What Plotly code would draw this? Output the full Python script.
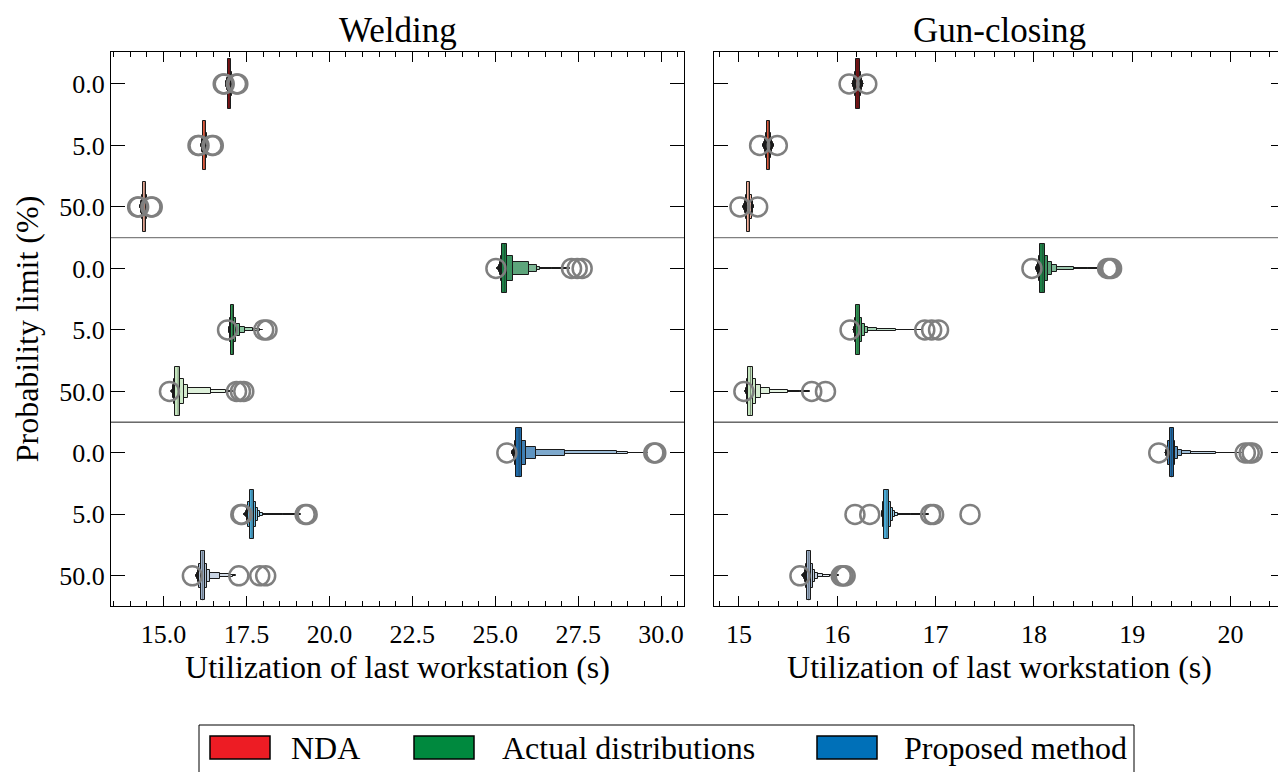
import plotly.graph_objects as go
from plotly.subplots import make_subplots

# ---------------- data ----------------
ROW_POSITIONS = [0, 1, 2, 3, 4, 5, 6, 7, 8]
PROB_TICK_LABELS = ["0.0", "5.0", "50.0", "0.0", "5.0", "50.0", "0.0", "5.0", "50.0"]
METHODS = ["NDA", "Actual distributions", "Proposed method"]
PANEL_TITLES = ["Welding", "Gun-closing"]
X_TITLE = "Utilization of last workstation (s)"
Y_TITLE = "Probability limit (%)"

# Welding: letter values (innermost -> outermost) per row
WELDING_MEDIAN = [17.00, 16.25, 14.42, 25.28, 17.08, 15.44, 25.72, 17.67, 16.18]
WELDING_LV_LOW = [
    [16.955, 16.93, 16.91, 16.895, 16.885, 16.878, 16.872],
    [16.205, 16.18, 16.16, 16.145, 16.135, 16.128, 16.122],
    [14.375, 14.35, 14.33, 14.315, 14.305, 14.298, 14.292],
    [25.20, 25.16, 25.13, 25.10, 25.08, 25.065, 25.055],
    [17.04, 17.01, 16.99, 16.98, 16.97, 16.965, 16.96],
    [15.36, 15.33, 15.30, 15.28, 15.26, 15.25, 15.24],
    [25.63, 25.59, 25.56, 25.54, 25.52, 25.51, 25.50],
    [17.60, 17.55, 17.51, 17.48, 17.45, 17.43, 17.42],
    [16.12, 16.08, 16.05, 16.02, 16.00, 15.98, 15.97],
]
WELDING_LV_HIGH = [
    [17.045, 17.07, 17.09, 17.105, 17.115, 17.122, 17.128],
    [16.295, 16.32, 16.34, 16.355, 16.365, 16.372, 16.378],
    [14.465, 14.49, 14.51, 14.525, 14.535, 14.542, 14.548],
    [25.36, 25.53, 26.03, 26.25, 26.36, 26.70, 27.24],
    [17.12, 17.20, 17.30, 17.45, 17.70, 17.90, 18.00],
    [15.51, 15.61, 15.73, 16.42, 16.87, 16.95, 17.10],
    [25.81, 25.94, 26.24, 27.11, 28.68, 29.00, 29.60],
    [17.74, 17.79, 17.84, 17.90, 18.00, 18.60, 19.15],
    [16.24, 16.30, 16.40, 16.70, 17.00, 17.10, 17.20],
]
WELDING_OUTLIERS = [
    [16.80, 16.83, 17.20, 17.24],
    [16.04, 16.07, 16.46, 16.50],
    [14.22, 14.25, 14.62, 14.66],
    [25.02, 27.30, 27.47, 27.62],
    [16.93, 18.02, 18.12],
    [15.18, 17.20, 17.32, 17.42],
    [25.35, 29.78, 29.84],
    [17.33, 17.37, 19.27, 19.33],
    [15.87, 17.27, 17.90, 18.08],
]

# Gun-closing
GUN_MEDIAN = [16.21, 15.30, 15.10, 18.09, 16.21, 15.117, 19.40, 16.505, 15.71]
GUN_LV_LOW = [
    [16.193, 16.18, 16.17, 16.163, 16.158, 16.155, 16.153],
    [15.283, 15.27, 15.26, 15.253, 15.248, 15.245, 15.243],
    [15.083, 15.07, 15.06, 15.053, 15.048, 15.045, 15.043],
    [18.062, 18.05, 18.04, 18.03, 18.025, 18.02, 18.018],
    [16.195, 16.185, 16.177, 16.172, 16.168, 16.165, 16.163],
    [15.095, 15.085, 15.078, 15.072, 15.068, 15.065, 15.063],
    [19.38, 19.365, 19.355, 19.348, 19.343, 19.34, 19.338],
    [16.48, 16.47, 16.463, 16.458, 16.455, 16.452, 16.45],
    [15.69, 15.68, 15.67, 15.663, 15.656, 15.65, 15.645],
]
GUN_LV_HIGH = [
    [16.227, 16.24, 16.25, 16.257, 16.262, 16.265, 16.267],
    [15.317, 15.33, 15.34, 15.347, 15.352, 15.355, 15.357],
    [15.117, 15.13, 15.14, 15.147, 15.152, 15.155, 15.157],
    [18.112, 18.146, 18.18, 18.237, 18.406, 18.55, 18.68],
    [16.235, 16.255, 16.28, 16.31, 16.40, 16.60, 16.86],
    [15.14, 15.17, 15.22, 15.32, 15.50, 15.62, 15.72],
    [19.42, 19.44, 19.47, 19.51, 19.60, 19.85, 20.12],
    [16.53, 16.55, 16.57, 16.59, 16.62, 16.75, 16.93],
    [15.73, 15.75, 15.77, 15.80, 15.85, 15.93, 16.02],
]
GUN_OUTLIERS = [
    [16.12, 16.30],
    [15.21, 15.39],
    [15.01, 15.19],
    [17.98, 18.75, 18.77, 18.79],
    [16.13, 16.89, 16.96, 17.03],
    [15.05, 15.74, 15.88],
    [19.27, 20.15, 20.19, 20.22],
    [16.18, 16.33, 16.95, 16.98, 17.35],
    [15.62, 16.04, 16.06, 16.08],
]

# ---------------- style ----------------
ROW_COLORS = ["#7c1114", "#e05a3d", "#f8b29c",
              "#1d8147", "#2f9a55", "#c4e5be",
              "#1f6aa8", "#4aaad6", "#9fb3cc"]
LEGEND_COLORS = ["#ed1c24", "#00893e", "#0070b8"]
FONT = "Liberation Serif"

# the page body adds an 8px offset; pixel layout below is in window coordinates
OFF = 8
W, H = 1286, 772
PLOT_L, PLOT_R, PLOT_T, PLOT_B = 111, 1285, 52, 606
L = PLOT_L - OFF
T = PLOT_T - OFF
R = W - (PLOT_R - OFF)
B = H - (PLOT_B - OFF)
PW, PH = W - L - R, H - T - B


def mix_white(hex_color, t):
    h = hex_color.lstrip("#")
    r, g, b = (int(h[i:i + 2], 16) for i in (0, 2, 4))
    r = round(r + (255 - r) * t)
    g = round(g + (255 - g) * t)
    b = round(b + (255 - b) * t)
    return f"rgb({r},{g},{b})"


def px(xw):
    return (xw - PLOT_L) / PW


def py(yw):
    return (PLOT_B - yw) / PH


fig = make_subplots(rows=1, cols=2)

panels = [
    (WELDING_MEDIAN, WELDING_LV_LOW, WELDING_LV_HIGH, WELDING_OUTLIERS),
    (GUN_MEDIAN, GUN_LV_LOW, GUN_LV_HIGH, GUN_OUTLIERS),
]

for col, (med, lows, highs, outs) in enumerate(panels, start=1):
    n_lv = len(lows[0])
    for j in range(n_lv - 1, -1, -1):
        frac = 0.85 * j / (n_lv - 1)
        fig.add_trace(go.Bar(
            orientation="h",
            y=ROW_POSITIONS,
            base=[lows[r][j] for r in ROW_POSITIONS],
            x=[highs[r][j] - lows[r][j] for r in ROW_POSITIONS],
            width=[0.8 * 0.5 ** j] * len(ROW_POSITIONS),
            marker=dict(color=[mix_white(ROW_COLORS[r], frac) for r in ROW_POSITIONS],
                        line=dict(color="#1a1a1a", width=1)),
            showlegend=False, hoverinfo="skip",
        ), row=1, col=col)
    # median lines
    mx, my = [], []
    for r in ROW_POSITIONS:
        mx += [med[r], med[r], None]
        my += [r - 0.4, r + 0.4, None]
    fig.add_trace(go.Scatter(x=mx, y=my, mode="lines",
                             line=dict(color="rgba(38,38,38,0.45)", width=1),
                             showlegend=False, hoverinfo="skip"), row=1, col=col)
    # outliers
    ox, oy = [], []
    for r in ROW_POSITIONS:
        ox += outs[r]
        oy += [r] * len(outs[r])
    fig.add_trace(go.Scatter(x=ox, y=oy, mode="markers",
                             marker=dict(symbol="circle-open", size=19, color="#7f7f7f",
                                         line=dict(width=2.5)),
                             showlegend=False, hoverinfo="skip"), row=1, col=col)

axis_common = dict(showline=True, linecolor="black", linewidth=1.3, mirror="allticks",
                   ticks="inside", tickcolor="black", tickwidth=1.3,
                   showgrid=False, zeroline=False, automargin=False,
                   tickfont=dict(family=FONT, size=26, color="black"))

fig.update_xaxes(**axis_common, ticklen=10, ticklabelstandoff=5,
                 minor=dict(ticks="inside", ticklen=5, tickwidth=1.2, tickcolor="black"),
                 title=dict(text=X_TITLE, font=dict(family=FONT, size=32, color="black"), standoff=6))
fig.update_xaxes(range=[13.417, 30.69], tick0=15, dtick=2.5, tickformat=".1f",
                 minor_dtick=0.5, domain=[px(111), px(684)], row=1, col=1)
fig.update_xaxes(range=[14.746, 20.554], tick0=15, dtick=1, tickformat="d",
                 minor_dtick=0.2, domain=[px(714), px(1285)], row=1, col=2)

fig.update_yaxes(**axis_common, ticklen=14, range=[8.49, -0.52],
                 tickvals=ROW_POSITIONS, ticktext=PROB_TICK_LABELS)
fig.update_yaxes(title=dict(text=Y_TITLE, font=dict(family=FONT, size=32, color="black"), standoff=10),
                 row=1, col=1)
fig.update_yaxes(showticklabels=False, row=1, col=2)

# group separators
for col in (1, 2):
    xr = "x domain" if col == 1 else "x2 domain"
    yr = "y" if col == 1 else "y2"
    fig.add_shape(type="line", xref=xr, yref=yr, x0=0, x1=1, y0=2.5, y1=2.5,
                  line=dict(color="#808080", width=1.2))
    fig.add_shape(type="line", xref=xr, yref=yr, x0=0, x1=1, y0=5.5, y1=5.5,
                  line=dict(color="#1a1a1a", width=1.0))

# subplot titles (kept fully inside the page)
for i, title in enumerate(PANEL_TITLES):
    xr = "x domain" if i == 0 else "x2 domain"
    fig.add_annotation(text=title, xref=xr, yref="paper", x=0.5, y=1, yshift=T - 1,
                       xanchor="center", yanchor="top", showarrow=False,
                       font=dict(family=FONT, size=35, color="black"))

# manual legend
fig.add_shape(type="rect", xref="paper", yref="paper", x0=px(199), x1=px(1134),
              y0=py(725), y1=py(800), line=dict(color="black", width=1), fillcolor="white")
for name, color, sx, tx in zip(METHODS, LEGEND_COLORS, [210, 414, 817], [289, 500, 902]):
    fig.add_shape(type="rect", xref="paper", yref="paper", x0=px(sx), x1=px(sx + 60),
                  y0=py(759), y1=py(736), line=dict(color="black", width=1.5), fillcolor=color)
    fig.add_annotation(text=name, xref="paper", yref="paper", x=px(tx), y=py(747.5),
                       xanchor="left", yanchor="middle", showarrow=False,
                       font=dict(family=FONT, size=32, color="black"))

fig.update_layout(width=W, height=H, margin=dict(l=L, r=R, t=T, b=B, autoexpand=False),
                  plot_bgcolor="white", paper_bgcolor="white", barmode="overlay",
                  bargap=0, showlegend=False, font=dict(family=FONT, color="black"))

fig.write_html("out.html")
